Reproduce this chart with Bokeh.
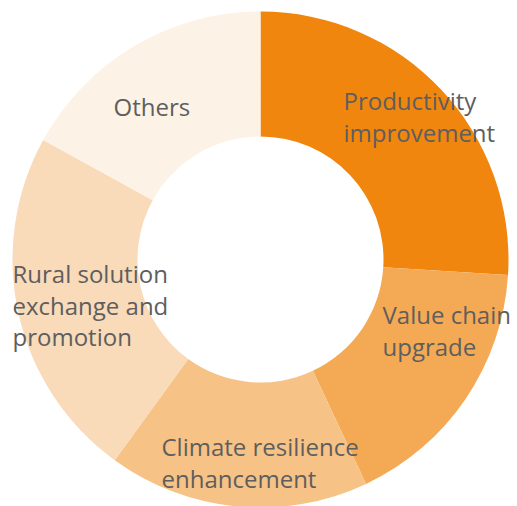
import numpy as np
from bokeh.plotting import figure
from bokeh.models import Range1d, ColumnDataSource
from bokeh.embed import file_html
from bokeh.resources import INLINE
from bokeh.core.properties import value

categories = ["Productivity improvement", "Value chain upgrade",
              "Climate resilience enhancement",
              "Rural solution exchange and promotion", "Others"]
shares = [26, 17, 17, 23, 17]
colors = ["#F0860E", "#F4AA55", "#F7C286", "#F9DAB9", "#FDF2E6"]
label_lines = [["Productivity", "improvement"], ["Value chain", "upgrade"],
               ["Climate resilience", "enhancement"],
               ["Rural solution", "exchange and", "promotion"], ["Others"]]

# layout (page pixels): first-line left/center for each label
label_pos = [(343, 100), (382, 314), (161, 446), (12, 273), (113, 106)]
LINE_GAP = 31.5
PAGE_H = 506
CX, CY = 260, PAGE_H - 259
R_OUT, R_IN = 248, 123

W, H = 517, 506
p = figure(width=W, height=H, output_backend="svg", toolbar_location=None,
           x_range=Range1d(0, W), y_range=Range1d(PAGE_H - H, PAGE_H),
           min_border=0)
p.axis.visible = False
p.grid.visible = False
p.outline_line_color = None
p.background_fill_color = "white"
p.border_fill_color = "white"

total = float(sum(shares))
cum = np.concatenate([[0], np.cumsum(shares)])
start = np.pi / 2 - cum[:-1] / total * 2 * np.pi
end = np.pi / 2 - cum[1:] / total * 2 * np.pi
src = ColumnDataSource(dict(cat=categories, start=start, end=end, color=colors))
p.annular_wedge(x=CX, y=CY, inner_radius=R_IN, outer_radius=R_OUT,
                start_angle="start", end_angle="end", direction="clock",
                fill_color="color", line_color=None, source=src)

xs, ys, ts = [], [], []
for lines, (lx, ly) in zip(label_lines, label_pos):
    for i, t in enumerate(lines):
        xs.append(lx)
        ys.append(PAGE_H - (ly + i * LINE_GAP))
        ts.append(t)
p.text(x=xs, y=ys, text=ts, text_font=value("Open Sans"), text_font_size="24px",
       text_color="#5e5e5e", text_align="left", text_baseline="middle")

open("out.html", "w").write(file_html(p, INLINE))
